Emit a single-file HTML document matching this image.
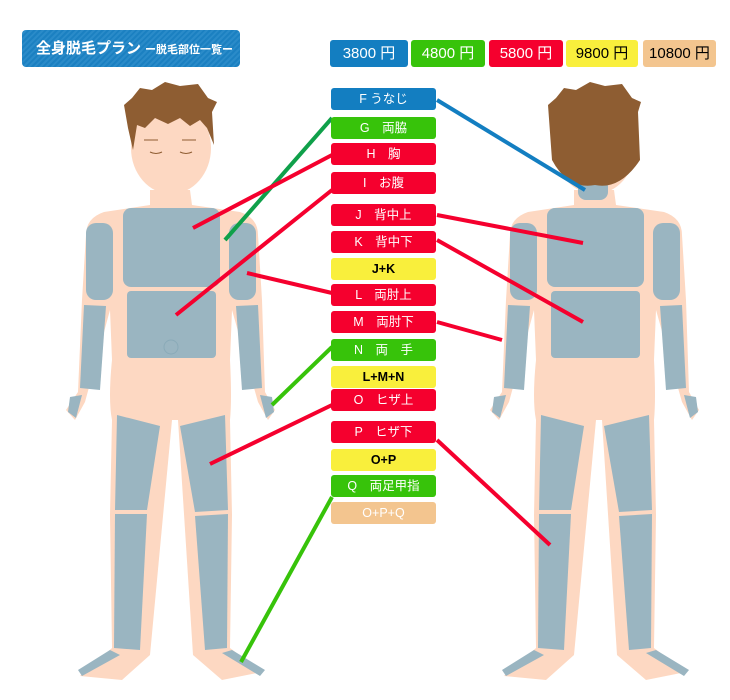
<!DOCTYPE html>
<html><head><meta charset="utf-8"><style>
html,body{margin:0;padding:0;background:#fff}
body{width:730px;height:700px;position:relative;overflow:hidden;font-family:"Liberation Sans","Noto Sans CJK JP",sans-serif}
.t{position:absolute;left:22px;top:30px;width:218px;height:37px;border-radius:4px;background:repeating-linear-gradient(135deg,#1b80c1 0 2px,#2a8bc9 2px 4px);color:#fff;font-weight:bold;font-size:15px;line-height:37px;padding-left:14px;box-sizing:border-box;white-space:nowrap}
.t small{font-size:11px;margin-left:4px}
.p{position:absolute;top:40px;height:27px;border-radius:3px;font-size:15px;line-height:27px;text-align:center}
.b{position:absolute;left:331px;width:105px;height:22px;border-radius:3px;font-size:12.5px;line-height:22px;text-align:center;color:#fff}
.r{background:#f5002e}.g{background:#37c30a}.y{background:#f9ef3c;color:#000;font-weight:bold}.bl{background:#137ec1}.o{background:#f3c58f}
</style></head><body>
<svg width="730" height="700" style="position:absolute;left:0;top:0">
<defs>
<g id="body">
 <path d="M150,190 L190,190 L192,205 L240,212 Q258,218 258,235 L262,300 L265,392 L275,410 L268,420 L258,402 L232,310 L230,360 Q232,400 230,420 L232,515 L230,648 L262,672 L222,680 L193,655 L178,420 L172,420 L150,655 L122,680 L80,676 L112,648 L110,515 L112,420 Q108,400 112,360 L110,310 L85,402 L75,420 L66,410 L78,392 L82,300 L86,235 Q86,218 104,212 L150,205 Z" fill="#fdd8c2"/>
 <rect x="123" y="208" width="97" height="79" rx="8" fill="#9ab5c1"/>
 <rect x="127" y="291" width="89" height="67" rx="4" fill="#9ab5c1"/>
 <rect x="86" y="223" width="27" height="77" rx="10" fill="#9ab5c1"/>
 <rect x="229" y="223" width="27" height="77" rx="10" fill="#9ab5c1"/>
 <path d="M84,305 L106,306 L100,390 L80,388 Z" fill="#9ab5c1"/>
 <path d="M236,306 L258,305 L262,388 L242,390 Z" fill="#9ab5c1"/>
 <path d="M70,397 L82,395 L76,418 L68,412 Z" fill="#9ab5c1"/>
 <path d="M260,395 L272,397 L274,412 L266,418 Z" fill="#9ab5c1"/>
 <path d="M117,415 L160,426 L147,510 L115,510 Z" fill="#9ab5c1"/>
 <path d="M180,426 L225,415 L228,510 L195,512 Z" fill="#9ab5c1"/>
 <path d="M115,514 L147,514 L140,650 L114,648 Z" fill="#9ab5c1"/>
 <path d="M195,516 L228,514 L227,648 L205,650 Z" fill="#9ab5c1"/>
 <path d="M110,650 L120,655 L82,676 L78,670 Z" fill="#9ab5c1"/>
 <path d="M222,653 L232,650 L265,670 L260,676 Z" fill="#9ab5c1"/>
</g>
</defs>
<use href="#body"/>
<ellipse cx="171" cy="148" rx="40" ry="46" fill="#fdd8c2"/>
<path d="M124,105 L132,98 L140,88 L152,90 L165,82 L180,86 L198,84 L208,98 L217,102 L212,112 L214,145 L207,128 L200,120 L190,126 L180,118 L168,124 L155,118 L145,128 L137,125 L133,150 L128,128 Z" fill="#8e5d32"/>
<path d="M150,152 q6,3 12,0 M180,152 q6,3 12,0 M144,140 h14 M182,140 h14" stroke="#8e5d32" fill="none"/>
<circle cx="171" cy="347" r="7" fill="none" stroke="#8aaab8"/>
<use href="#body" transform="translate(424,0)"/>
<ellipse cx="595" cy="148" rx="40" ry="46" fill="#fdd8c2"/>
<rect x="578" y="178" width="30" height="22" rx="8" fill="#9ab5c1"/>
<path d="M548,105 L556,98 L564,88 L576,90 L590,82 L605,86 L622,84 L632,98 L641,102 L638,112 L640,160 Q620,190 595,185 Q568,190 552,160 Z" fill="#8e5d32"/>
<g stroke-width="4">
<line x1="437" y1="100" x2="585" y2="190" stroke="#137ec1"/>
<line x1="332" y1="118" x2="225" y2="240" stroke="#0fa04a"/>
<line x1="332" y1="155" x2="193" y2="228" stroke="#f5002e"/>
<line x1="332" y1="190" x2="176" y2="315" stroke="#f5002e"/>
<line x1="437" y1="215" x2="583" y2="243" stroke="#f5002e"/>
<line x1="437" y1="240" x2="583" y2="322" stroke="#f5002e"/>
<line x1="332" y1="293" x2="247" y2="273" stroke="#f5002e"/>
<line x1="437" y1="322" x2="502" y2="340" stroke="#f5002e"/>
<line x1="332" y1="347" x2="272" y2="405" stroke="#37c30a"/>
<line x1="332" y1="405" x2="210" y2="464" stroke="#f5002e"/>
<line x1="437" y1="440" x2="550" y2="545" stroke="#f5002e"/>
<line x1="332" y1="497" x2="241" y2="662" stroke="#37c30a"/>
</g>
</svg>
<div class="t">全身脱毛プラン<small>ー脱毛部位一覧ー</small></div>
<div class="p bl" style="left:330px;width:78px;color:#fff">3800 円</div>
<div class="p g" style="left:411px;width:74px;color:#fff">4800 円</div>
<div class="p r" style="left:489px;width:74px;color:#fff">5800 円</div>
<div class="p y" style="left:566px;width:72px;font-weight:normal">9800 円</div>
<div class="p o" style="left:643px;width:73px">10800 円</div>
<div class="b bl" style="top:88px">F うなじ</div>
<div class="b g" style="top:117px">G　両脇</div>
<div class="b r" style="top:143px">H　胸</div>
<div class="b r" style="top:172px">I　お腹</div>
<div class="b r" style="top:204px">J　背中上</div>
<div class="b r" style="top:231px">K　背中下</div>
<div class="b y" style="top:258px">J+K</div>
<div class="b r" style="top:284px">L　両肘上</div>
<div class="b r" style="top:311px">M　両肘下</div>
<div class="b g" style="top:339px">N　両　手</div>
<div class="b y" style="top:366px">L+M+N</div>
<div class="b r" style="top:389px">O　ヒザ上</div>
<div class="b r" style="top:421px">P　ヒザ下</div>
<div class="b y" style="top:449px">O+P</div>
<div class="b g" style="top:475px">Q　両足甲指</div>
<div class="b o" style="top:502px;color:#fff">O+P+Q</div>
</body></html>
